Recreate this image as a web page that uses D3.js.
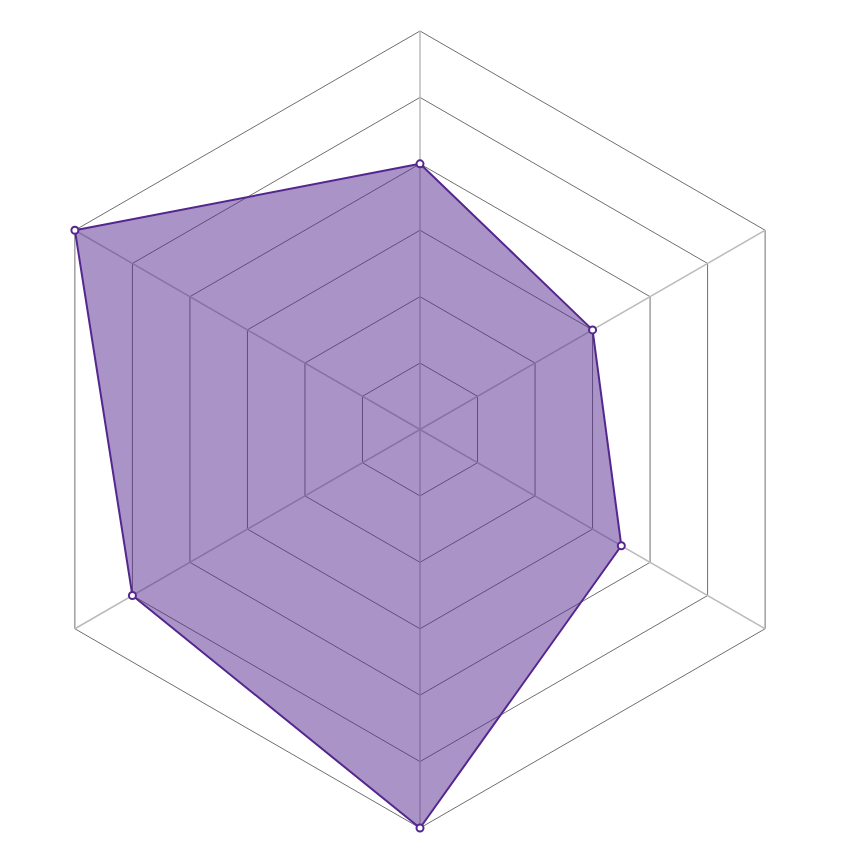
<!DOCTYPE html>
<html>
<head>
<meta charset="utf-8">
<script src="https://cdn.jsdelivr.net/npm/d3@7"></script>
<style>
  html, body { margin: 0; padding: 0; background: #fff; }
</style>
</head>
<body>
<svg id="chart"></svg>
<script>
// Data
const axes = ['A', 'B', 'C', 'D', 'E', 'F'];
const values = [4, 3, 3.5, 6, 5, 6];
const levels = [1, 2, 3, 4, 5, 6];

// Dimensions
const width = 860;
const height = 860;
const cx = 420;
const cy = 429.5;
const radius = 398.5;
const maxValue = 6;

const svg = d3.select('#chart')
  .attr('width', width)
  .attr('height', height)
  .append('g')
  .attr('transform', `translate(${cx}, ${cy})`);

const r = d3.scaleLinear().domain([0, maxValue]).range([0, radius]);
const angle = d3.scalePoint().domain(axes.map((d, i) => i)).range([0, 2 * Math.PI * (axes.length - 1) / axes.length]);

const point = (i, v) => [
  r(v) * Math.sin(angle(i)),
  -r(v) * Math.cos(angle(i))
];

// Grid rings (one segment per edge)
levels.forEach((lvl) => {
  svg.append('g')
    .selectAll('line')
    .data(axes.map((d, i) => i))
    .join('line')
    .attr('x1', (i) => point(i, lvl)[0])
    .attr('y1', (i) => point(i, lvl)[1])
    .attr('x2', (i) => point((i + 1) % axes.length, lvl)[0])
    .attr('y2', (i) => point((i + 1) % axes.length, lvl)[1])
    .attr('stroke', '#6f6f6f')
    .attr('stroke-width', 1);
});

// Axis spokes
svg.append('g')
  .selectAll('line')
  .data(axes.map((d, i) => i))
  .join('line')
  .attr('x1', 0)
  .attr('y1', 0)
  .attr('x2', (i) => point(i, maxValue)[0])
  .attr('y2', (i) => point(i, maxValue)[1])
  .attr('stroke', '#bbb')
  .attr('stroke-width', 1.5);

// Data area
const line = d3.lineRadial()
  .angle((d, i) => angle(i))
  .radius((d) => r(d))
  .curve(d3.curveLinearClosed);

svg.append('path')
  .datum(values)
  .attr('d', line)
  .attr('fill', '#54278f')
  .attr('fill-opacity', 0.5)
  .attr('stroke', '#54278f')
  .attr('stroke-width', 2)
  .attr('stroke-linejoin', 'round');

// Points
svg.append('g')
  .selectAll('circle')
  .data(values)
  .join('circle')
  .attr('cx', (d, i) => point(i, d)[0])
  .attr('cy', (d, i) => point(i, d)[1])
  .attr('r', 3.5)
  .attr('fill', '#fff')
  .attr('stroke', '#54278f')
  .attr('stroke-width', 2);
</script>
</body>
</html>
